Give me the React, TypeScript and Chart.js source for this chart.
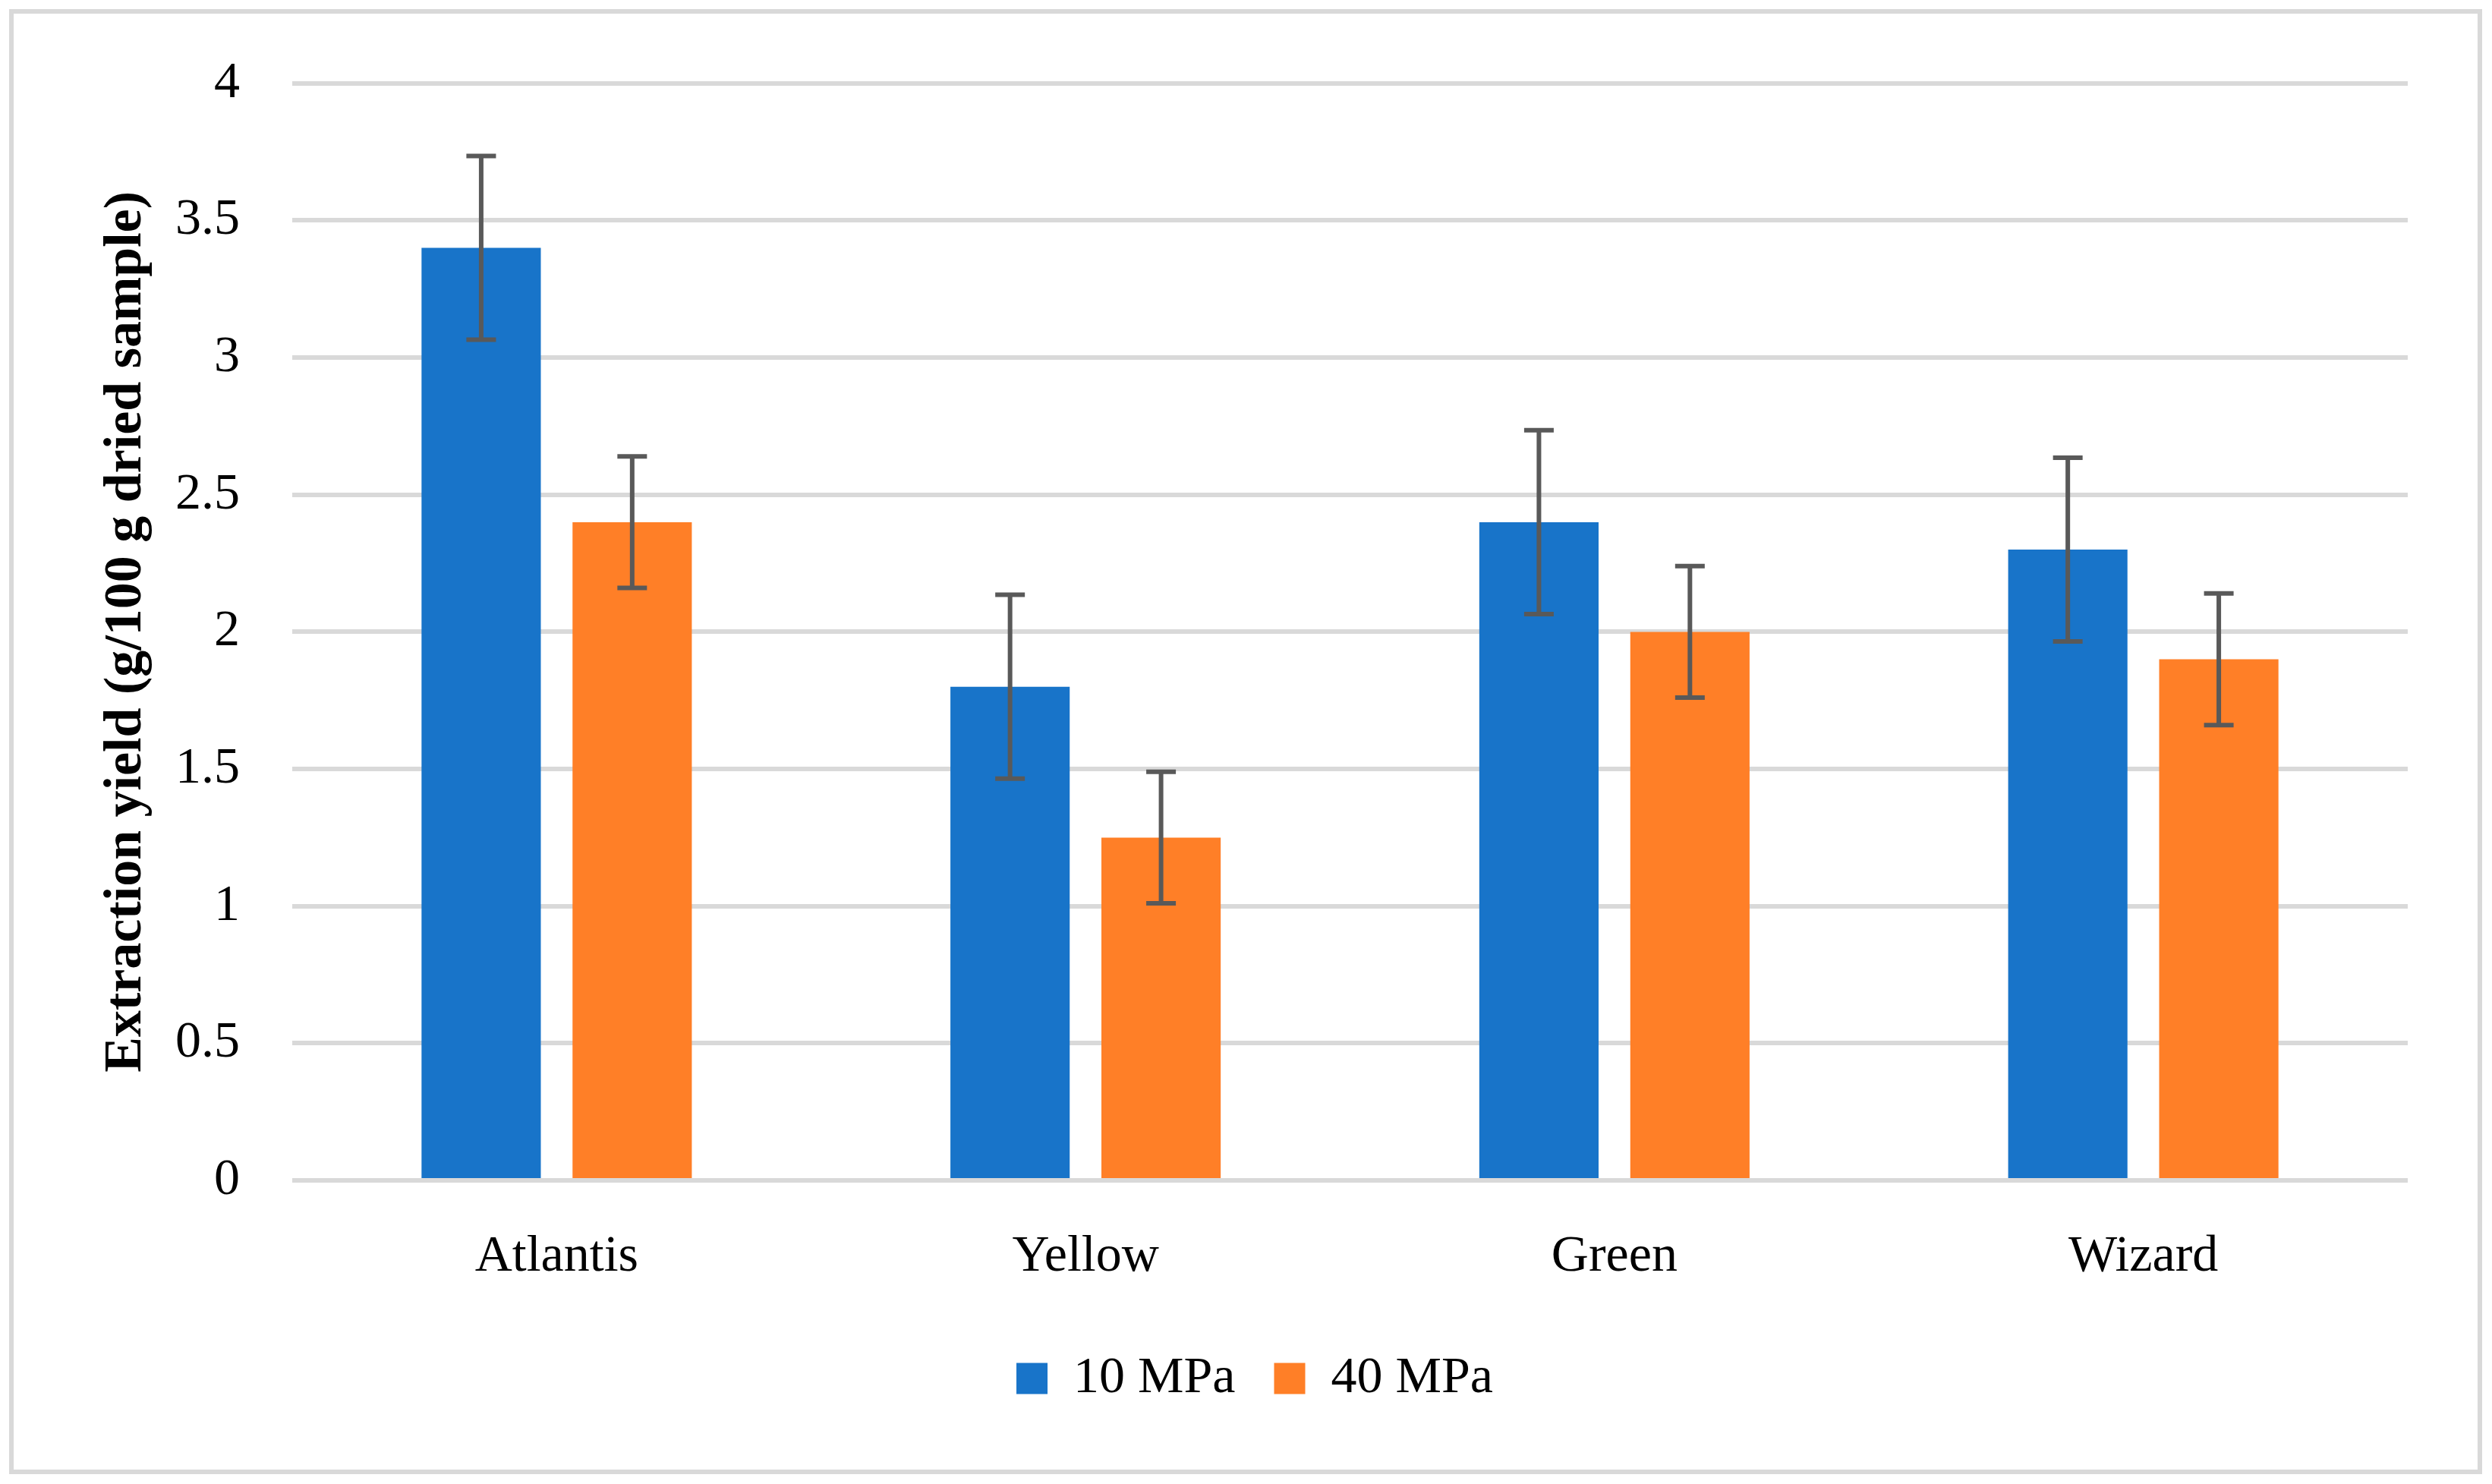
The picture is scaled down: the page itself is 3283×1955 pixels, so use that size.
import React, { useEffect, useRef } from "react";
import { Chart, registerables } from "chart.js";

Chart.register(...registerables);

const categories = ["Atlantis", "Yellow", "Green", "Wizard"];
const seriesNames = ["10 MPa", "40 MPa"];
const values10 = [3.4, 1.8, 2.4, 2.3];
const values40 = [2.4, 1.25, 2.0, 1.9];
const err10 = [0.335, 0.335, 0.335, 0.335];
const err40 = [0.24, 0.24, 0.24, 0.24];
const yTitle = "Extraction yield (g/100 g dried sample)";
const yMin = 0;
const yMax = 4;
const yStep = 0.5;

const FONT = "'Liberation Serif', 'Times New Roman', serif";

const errorBarPlugin = {
  id: "errorBars",
  afterDatasetsDraw(chart: any) {
    const ctx = chart.ctx;
    const yScale = chart.scales.y;
    ctx.save();
    ctx.strokeStyle = "#595959";
    ctx.lineWidth = 6;
    ctx.lineCap = "butt";
    chart.data.datasets.forEach((ds: any, di: number) => {
      const meta = chart.getDatasetMeta(di);
      const errs: number[] = ds.errors || [];
      meta.data.forEach((bar: any, i: number) => {
        const v = ds.data[i];
        const e = errs[i] || 0;
        const x = bar.x;
        const yTop = yScale.getPixelForValue(v + e);
        const yBot = yScale.getPixelForValue(v - e);
        const half = 19.5;
        ctx.beginPath();
        ctx.moveTo(x, yTop);
        ctx.lineTo(x, yBot);
        ctx.moveTo(x - half, yTop);
        ctx.lineTo(x + half, yTop);
        ctx.moveTo(x - half, yBot);
        ctx.lineTo(x + half, yBot);
        ctx.stroke();
      });
    });
    ctx.restore();
  },
};

export default function App() {
  const ref = useRef<HTMLCanvasElement>(null);

  useEffect(() => {
    if (!ref.current) return;
    const chart = new Chart(ref.current, {
      type: "bar",
      data: {
        labels: categories,
        datasets: [
          {
            label: seriesNames[0],
            data: values10,
            errors: err10,
            backgroundColor: "#1874C9",
            borderWidth: 0,
            categoryPercentage: 0.571,
            barPercentage: 0.79,
          } as any,
          {
            label: seriesNames[1],
            data: values40,
            errors: err40,
            backgroundColor: "#FF7F27",
            borderWidth: 0,
            categoryPercentage: 0.571,
            barPercentage: 0.79,
          } as any,
        ],
      },
      options: {
        animation: false,
        responsive: false,
        devicePixelRatio: 1,
        layout: { padding: { left: 134, right: 111, top: 107, bottom: 95 } },
        plugins: {
          tooltip: { enabled: false },
          legend: {
            position: "bottom",
            align: "center",
            labels: {
              boxWidth: 41,
              boxHeight: 41,
              padding: 51,
              color: "#000",
              font: { family: FONT, size: 68 },
            },
          },
        },
        scales: {
          x: {
            grid: { display: false, drawTicks: false },
            border: { display: false },
            ticks: {
              color: "#000",
              padding: 60,
              font: { family: FONT, size: 68 },
            },
            afterFit: (s: any) => {
              s.height = 176;
            },
          },
          y: {
            min: yMin,
            max: yMax,
            grid: { color: "#D9D9D9", lineWidth: 6, drawTicks: false },
            border: { display: false },
            ticks: {
              stepSize: yStep,
              color: "#000",
              padding: 69,
              font: { family: FONT, size: 68 },
              callback: (v: any) => String(Number(v)),
            },
            title: {
              display: true,
              text: yTitle,
              color: "#000",
              padding: { top: 0, bottom: 0 },
              font: { family: FONT, size: 70, weight: "bold", lineHeight: 0.95 },
            },
            afterFit: (s: any) => {
              s.width = 251;
            },
          },
        },
      },
      plugins: [errorBarPlugin],
    });
    return () => chart.destroy();
  }, []);

  return (
    <div
      style={{
        position: "absolute",
        left: 0,
        top: 0,
        width: 3283,
        height: 1955,
        background: "#fff",
        overflow: "hidden",
      }}
    >
      <div
        style={{
          position: "absolute",
          left: 12,
          top: 12,
          width: 3258,
          height: 1930,
          border: "6px solid #D9D9D9",
          boxSizing: "border-box",
        }}
      />
      <canvas
        ref={ref}
        width={3283}
        height={1955}
        style={{ position: "absolute", left: 0, top: 0, width: 3283, height: 1955 }}
      />
    </div>
  );
}
